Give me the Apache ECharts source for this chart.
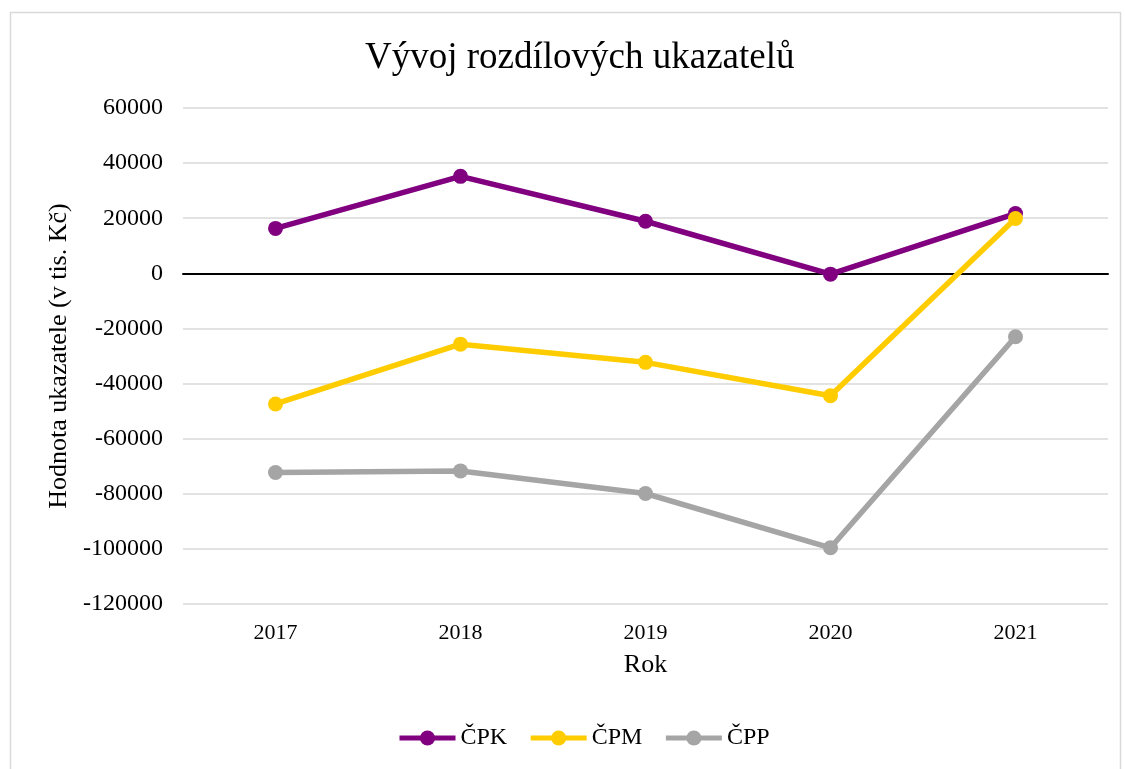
<!DOCTYPE html>
<html>
<head>
<meta charset="utf-8">
<script src="https://cdn.jsdelivr.net/npm/echarts@6/dist/echarts.min.js"></script>
<style>
    html, body {margin: 0; padding: 0; background: #fff;}
    #main {width: 1125px; height: 769px;}
</style>
</head>
<body>
<div id="main"></div>
<script>
// kategorie (roky)
var years = ['2017', '2018', '2019', '2020', '2021'];
// hodnoty ukazatelů v tis. Kč
var cpk = [16300, 35200, 18900, -300, 21700];
var cpm = [-47400, -25700, -32300, -44400, 19900];
var cpp = [-72300, -71700, -79900, -99600, -23000];

var font = '"Liberation Serif", "Times New Roman", serif';

var myChart = echarts.init(document.getElementById('main'));

function makeSeries(name, data, color) {
    return {
        name: name,
        type: 'line',
        data: data,
        symbol: 'circle',
        symbolSize: 15,
        lineStyle: {width: 5.5, color: color},
        itemStyle: {color: color},
        animation: false
    };
}

myChart.setOption({
    backgroundColor: '#fff',
    textStyle: {fontFamily: font},
    title: {
        text: 'Vývoj rozdílových ukazatelů',
        left: 360,
        top: 35,
        textStyle: {fontFamily: font, fontSize: 37, fontWeight: 'normal', color: '#000'}
    },
    graphic: [{
        type: 'rect',
        shape: {x: 10.5, y: 12.5, width: 1110, height: 800},
        style: {fill: 'none', stroke: '#d9d9d9', lineWidth: 1.5},
        silent: true
    }],
    legend: {
        top: 726,
        left: 397,
        padding: 0,
        itemWidth: 56,
        itemHeight: 19,
        itemGap: 21,
        lineStyle: {width: 5},
        textStyle: {fontFamily: font, fontSize: 24, color: '#000'},
        data: ['ČPK', 'ČPM', 'ČPP']
    },
    grid: {left: 183, right: 17, top: 108, bottom: 165},
    xAxis: {
        type: 'category',
        data: years,
        name: 'Rok',
        nameLocation: 'middle',
        nameGap: 48,
        nameTextStyle: {fontFamily: font, fontSize: 26, color: '#000'},
        axisLine: {onZero: true, lineStyle: {color: '#000', width: 2}},
        axisTick: {show: false},
        axisLabel: {fontFamily: font, fontSize: 22, color: '#000', margin: 18}
    },
    yAxis: {
        type: 'value',
        min: -120000,
        max: 60000,
        interval: 20000,
        name: 'Hodnota ukazatele (v tis. Kč)',
        nameLocation: 'middle',
        nameGap: 111,
        nameTextStyle: {fontFamily: font, fontSize: 26, color: '#000'},
        axisLine: {show: false},
        axisTick: {show: false},
        axisLabel: {
            fontFamily: font, fontSize: 24, color: '#000', margin: 20,
            formatter: function (v) { return String(v); }
        },
        splitLine: {lineStyle: {color: '#d9d9d9', width: 1.5}}
    },
    series: [
        makeSeries('ČPK', cpk, '#800080'),
        makeSeries('ČPM', cpm, '#FFCC00'),
        makeSeries('ČPP', cpp, '#A5A5A5')
    ]
});
</script>
</body>
</html>
